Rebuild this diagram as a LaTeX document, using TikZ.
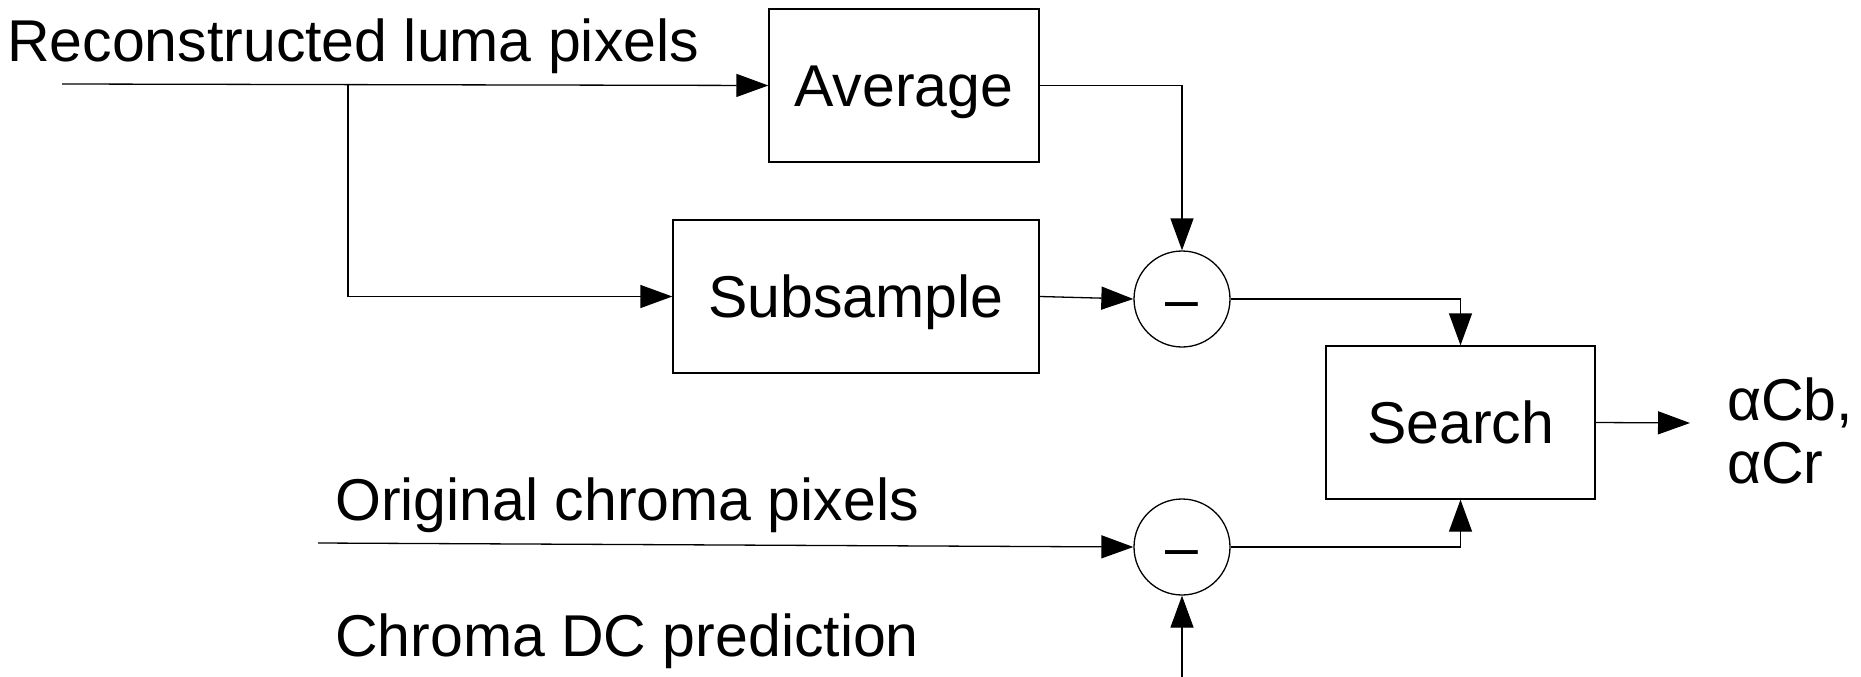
\documentclass[tikz,border=0pt]{standalone}
\usepackage{fontspec}
\setmainfont{Liberation Sans}
\usetikzlibrary{arrows.meta}
\begin{document}
\begin{tikzpicture}[x=1pt,y=-1pt,
  every node/.style={inner sep=0pt, font=\fontsize{59}{70}\selectfont},
  blk/.style={draw, line width=1.3pt, minimum height=153pt, text height=42pt, text depth=0pt},
  circ/.style={draw, circle, line width=1.3pt, minimum size=96pt, text height=40pt, text depth=0pt},
  conn/.style={line width=1.3pt, -{Triangle[length=32pt,width=23pt]}},
  lbl/.style={anchor=base west}
]
\useasboundingbox (0,0) rectangle (1861,677);

% processing blocks
\node[blk, minimum width=270pt] (avg) at (904,85.5) {Average};
\node[blk, minimum width=366pt] (sub) at (856,296.5) {Subsample};
\node[blk, minimum width=269pt] (srch) at (1460.5,422.5) {Search};

% difference nodes
\node[circ] (m1) at (1182,299) {–};
\node[circ] (m2) at (1182,547) {–};

% signal names
\node[lbl] (lumatxt) at (7,62) {Reconstructed luma pixels};
\node[lbl] (origtxt) at (335,520) {Original chroma pixels};
\node[lbl] (dctxt) at (335,656) {Chroma DC prediction};
\node[lbl] (acb) at (1727,420) {αCb,};
\node[lbl] (acr) at (1727,483) {αCr};

% free ends of the signal lines
\coordinate (in) at (62,84);
\coordinate (br) at (348,84);
\coordinate (orig) at (318,543);
\coordinate (dc) at (1182,677);
\coordinate (out) at (1690,423);

% connections
\draw[conn] (in) -- (avg.west);
\draw[conn] (br) |- (sub.west);
\draw[conn] (avg.east) -| (m1.north);
\draw[conn] (sub.east) -- (m1.west);
\draw[conn] (m1.east) -| (srch.north);
\draw[conn] (orig) -- (m2.west);
\draw[conn] (m2.east) -| (srch.south);
\draw[conn] (dc) -- (m2.south);
\draw[conn] (srch.east) -- (out);
\end{tikzpicture}
\end{document}
